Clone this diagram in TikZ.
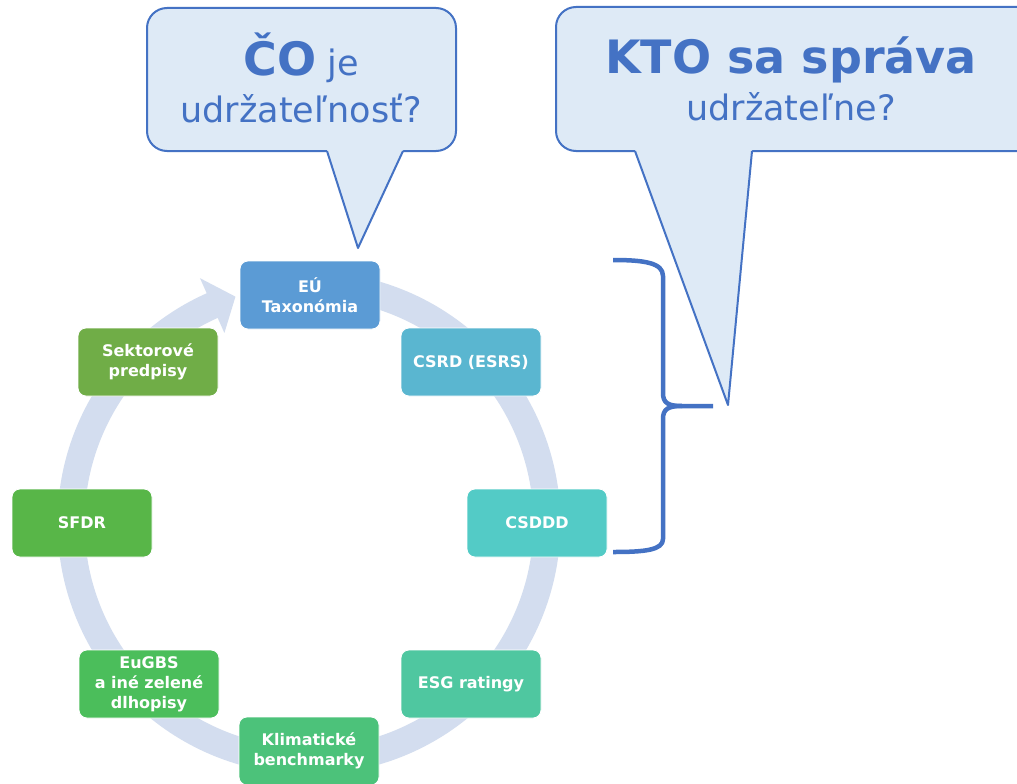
\documentclass[tikz,border=0pt]{standalone}
\usepackage{fontspec}
\setmainfont{DejaVu Sans}
\definecolor{accent}{HTML}{4472C4}
\definecolor{bubblefill}{HTML}{DEEAF6}
\definecolor{ringc}{HTML}{D3DDEF}
\definecolor{cTax}{HTML}{5B9BD5}
\definecolor{cCsrd}{HTML}{5AB6D0}
\definecolor{cCsddd}{HTML}{53CBC6}
\definecolor{cEsg}{HTML}{4FC7A0}
\definecolor{cKlim}{HTML}{4CC27A}
\definecolor{cGbs}{HTML}{4BBE5B}
\definecolor{cSfdr}{HTML}{58B648}
\definecolor{cSekt}{HTML}{70AD47}
\begin{document}
\begin{tikzpicture}[x=1pt,y=-1pt,
  box/.style={rounded corners=8pt, draw=white, line width=0.8pt,
    minimum width=140pt, minimum height=68pt, inner sep=2pt,
    align=center, text=white, font=\bfseries\fontsize{16}{20}\selectfont},
  bubble/.style={fill=bubblefill, draw=accent, line width=2pt, rounded corners=20pt},
  tailedge/.style={draw=accent, line width=2pt, line join=round},
  qtext/.style={align=center, text=accent, inner sep=0pt, font=\fontsize{35}{47}\selectfont},
  ring/.style={draw=ringc, line width=27pt},
  brace/.style={draw=accent, line width=4.5pt, line join=round}]
\clip (0,0) rectangle (1017,784);
\fill[white] (0,0) rectangle (1017,784);

% speech bubble on the left
\draw[bubble] (147,8) rectangle (456,151);
\fill[bubblefill] (327,151) -- (358,248) -- (403,151) -- (403,140) -- (327,140) -- cycle;
\draw[tailedge] (327,151) -- (358,248) -- (403,151);
\node[qtext] (q1) at (301,78) {{\bfseries\fontsize{46}{50}\selectfont ČO} je\\udržateľnosť?};

% speech bubble on the right
\draw[bubble] (556,7) rectangle (1040,151);
\fill[bubblefill] (635,151) -- (728,405) -- (752,151) -- (752,140) -- (635,140) -- cycle;
\draw[tailedge] (635,151) -- (728,405) -- (752,151);
\node[qtext] (q2) at (791,79) {{\bfseries\fontsize{46}{50}\selectfont KTO sa správa}\\udržateľne?};

% cycle ring with arrow head
\coordinate (c) at (309,523);
\draw[ring] plot[domain=-100:247, samples=200, smooth] ({309+238*cos(\x)},{523+238*sin(\x)});
\fill[ringc] ([shift={(246:208)}]c) -- ([shift={(252:238)}]c) -- ([shift={(246:268)}]c) -- cycle;

% cycle steps
\node[box, fill=cTax]   (tax)  at (310,295) {EÚ\\Taxonómia};
\node[box, fill=cCsrd]  (csrd) at (471,362) {CSRD (ESRS)};
\node[box, fill=cCsddd] (csddd) at (537,523) {CSDDD};
\node[box, fill=cEsg]   (esg)  at (471,684) {ESG ratingy};
\node[box, fill=cKlim]  (klim) at (309,751) {Klimatické\\benchmarky};
\node[box, fill=cGbs]   (gbs)  at (149,684) {EuGBS\\a iné zelené\\dlhopisy};
\node[box, fill=cSfdr]  (sfdr) at (82,523) {SFDR};
\node[box, fill=cSekt]  (sekt) at (148,362) {Sektorové\\predpisy};

% curly brace grouping the first three steps
\draw[brace] (613,260) .. controls (645,260) and (663,263) .. (663,276) -- (663,393)
  .. controls (663,403) and (668,406) .. (682,406) -- (713,406);
\draw[brace] (682,406) .. controls (668,406) and (663,409) .. (663,419) -- (663,539)
  .. controls (663,550) and (645,552) .. (613,552);
\end{tikzpicture}
\end{document}
